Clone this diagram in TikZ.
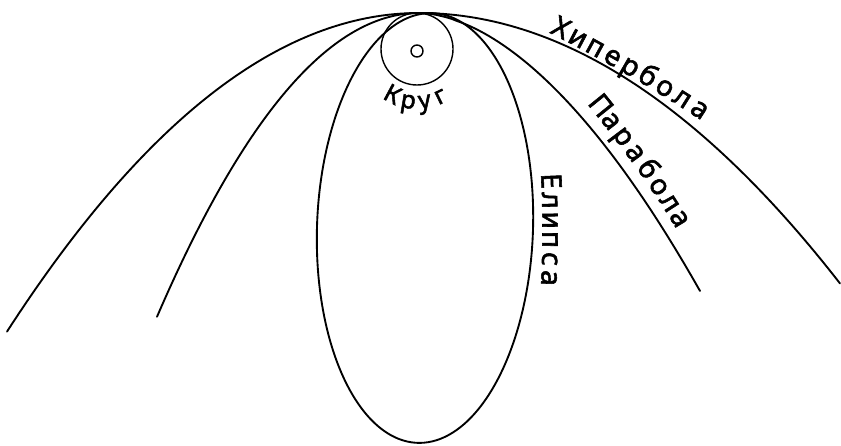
\documentclass[tikz,border=0pt]{standalone}
\usepackage{fontspec}
\setmainfont{Noto Sans}[FakeBold=2]
\newcommand\labfont{\fontsize{24}{24}\selectfont}
\newcommand\smallfont{\fontsize{21}{21}\selectfont}
\tikzset{
  conic/.style={line width=1.6pt, line join=round, line cap=round},
  ring/.style={line width=1.2pt},
  ch/.style={font=\labfont, sloped, allow upside down, anchor=base, inner sep=0pt},
  chs/.style={ch, font=\smallfont}
}
\begin{document}
\begin{tikzpicture}[x=0.03cm,y=-0.03cm]
\useasboundingbox (0,0) rectangle (841,445);
% hyperbola
\draw[conic] plot[domain=-412:0,samples=70] ({419+\x},{13+\x*(0.001877*\x)})
  -- plot[domain=0:421,samples=70] ({419+\x},{13+\x*(0.00153*\x)});
% parabola
\draw[conic] plot[domain=-262:0,samples=70] ({419+\x},{13+\x*(0.00443*\x)})
  -- plot[domain=0.5:281,samples=70] ({419+\x},{13+278*(\x/281)^1.79});
% ellipse
\draw[conic] plot[domain=0:360,samples=160,smooth]
  ({425+215*cos(\x)*0.0349+108*sin(\x)*0.9994},{228-215*cos(\x)*0.9994+108*sin(\x)*0.0349}) -- cycle;
% circle and centre
\draw[ring] (417,49) circle [radius=36];
\draw[ring] (417,51) circle [radius=6];
% labels, letter by letter along their base lines
\path (548,32) .. controls (600,58) and (652,88) .. (704,122)
  node[ch,pos=0.056] (h1) {Х} node[ch,pos=0.167] (h2) {и}
  node[ch,pos=0.278] (h3) {п} node[ch,pos=0.389] (h4) {е}
  node[ch,pos=0.500] (h5) {р} node[ch,pos=0.611] (h6) {б}
  node[ch,pos=0.722] (h7) {о} node[ch,pos=0.833] (h8) {л}
  node[ch,pos=0.944] (h9) {а};
\path (588,105) .. controls (616,139) and (655,192) .. (677,230)
  node[ch,pos=0.0625] (p1) {П} node[ch,pos=0.1875] (p2) {а}
  node[ch,pos=0.3125] (p3) {р} node[ch,pos=0.4375] (p4) {а}
  node[ch,pos=0.5625] (p5) {б} node[ch,pos=0.6875] (p6) {о}
  node[ch,pos=0.8125] (p7) {л} node[ch,pos=0.9375] (p8) {а};
\path (541,172) .. controls (543,210) and (543,250) .. (541,287)
  node[ch,pos=0.083] (e1) {Е} node[ch,pos=0.25] (e2) {л}
  node[ch,pos=0.417] (e3) {и} node[ch,pos=0.583] (e4) {п}
  node[ch,pos=0.75] (e5) {с} node[ch,pos=0.917] (e6) {а};
\path (380.9,96.9) .. controls (401.7,112.5) and (430.1,113.0) .. (451.4,98.1)
  node[chs,pos=0.12] (k1) {К} node[chs,pos=0.38] (k2) {р}
  node[chs,pos=0.63] (k3) {у} node[chs,pos=0.88] (k4) {г};
\end{tikzpicture}
\end{document}
